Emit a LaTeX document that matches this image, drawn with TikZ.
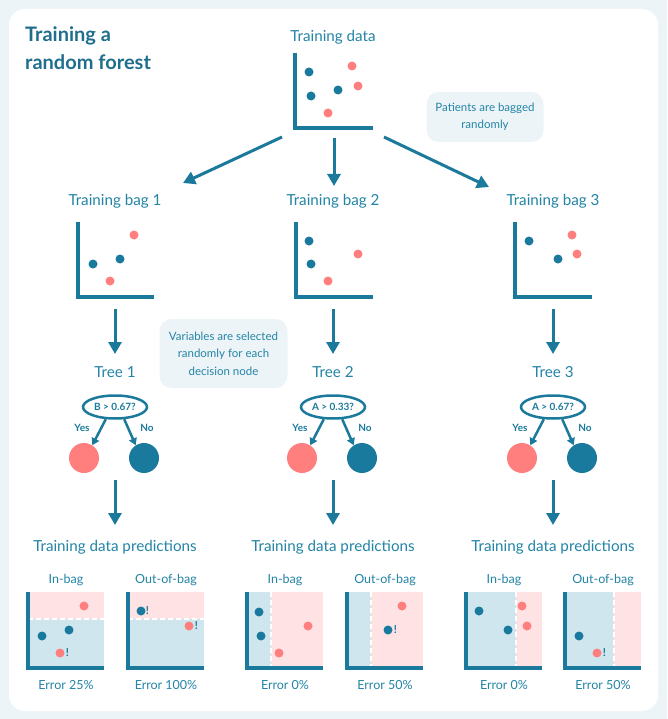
\documentclass[tikz,border=0pt]{standalone}
\usepackage{fontspec}
\setmainfont{Lato}
\usetikzlibrary{arrows.meta,shapes.geometric}
\definecolor{bgc}{HTML}{EDF4F8}
\definecolor{tealdark}{HTML}{1B7A9C}
\definecolor{titlec}{HTML}{1F6E8E}
\definecolor{labc}{HTML}{2384A6}
\definecolor{bdotc}{HTML}{1A7A9D}
\definecolor{rdotc}{HTML}{FF7E7E}
\definecolor{lblue}{HTML}{CFE6EE}
\definecolor{lpink}{HTML}{FFE2E4}
\definecolor{callc}{HTML}{EDF4F8}
\newcommand\dotB[1]{\fill[bdotc] #1 circle (4.5pt);}
\newcommand\dotR[1]{\fill[rdotc] #1 circle (4.5pt);}
\begin{document}
\begin{tikzpicture}[x=1pt,y=-1pt,
 lab/.style={text=labc, font=\fontsize{15.2}{17}\selectfont, inner sep=0, anchor=base},
 sublab/.style={text=labc, font=\fontsize{12.5}{14}\selectfont, inner sep=0, anchor=base},
 ttl/.style={text=titlec, font=\bfseries\fontsize{20}{22}\selectfont, inner sep=0, anchor=base west},
 callout/.style={fill=callc, rounded corners=12pt, text=labc, align=center, font=\fontsize{11.5}{17.5}\selectfont, inner sep=0},
 arr/.style={draw=tealdark, line width=3pt, -{Triangle[length=12pt,width=13pt]}},
 barr/.style={draw=tealdark, line width=2.5pt, -{Triangle[length=7pt,width=8pt]}},
 axisl/.style={draw=tealdark, line width=3.5pt},
 paxis/.style={draw=tealdark, line width=3.2pt},
 sepl/.style={draw=white, line width=2.5pt, dash pattern=on 5pt off 3pt},
 dec/.style={ellipse, draw=tealdark, line width=2.5pt, minimum width=64pt, minimum height=23pt, inner sep=0, text=tealdark, font=\bfseries\fontsize{10}{10}\selectfont},
 leafR/.style={circle, fill=rdotc, minimum size=30pt, inner sep=0},
 leafB/.style={circle, fill=bdotc, minimum size=30pt, inner sep=0},
 yn/.style={text=tealdark, font=\bfseries\fontsize{10}{10}\selectfont, inner sep=0},
 bang/.style={text=tealdark, font=\bfseries\fontsize{11}{12}\selectfont, inner sep=0},
]
\fill[bgc] (0,0) rectangle (667,719);
\useasboundingbox (0,0) rectangle (667,719);
\fill[white, rounded corners=16pt] (9,9) rectangle (658,711);

% title
\node[ttl] (title1) at (25,42) {Training a};
\node[ttl] (title2) at (25,70) {random forest};

% training data
\node[lab] (tdlab) at (333,42) {Training data};
\draw[axisl] (295,53) -- (295,128) -- (373,128);
\dotB{(309,72)} \dotB{(311,96)} \dotB{(338,90)}
\dotR{(352,66)} \dotR{(358,86)} \dotR{(328,113)}
\node[callout, minimum width=117pt, minimum height=50pt] (call1) at (485,117) {Patients are bagged\\randomly};

\coordinate (s1) at (282,137); \coordinate (e1) at (183,183);
\coordinate (s2) at (334,138); \coordinate (e2) at (334,186);
\coordinate (s3) at (384,137); \coordinate (e3) at (489,187);
\draw[arr] (s1) -- (e1);
\draw[arr] (s2) -- (e2);
\draw[arr] (s3) -- (e3);

% bags
\node[lab] (bag1) at (115,206) {Training bag 1};
\node[lab] (bag2) at (333,206) {Training bag 2};
\node[lab] (bag3) at (553,206) {Training bag 3};
\draw[axisl] (78,222) -- (78,297) -- (154,297);
\draw[axisl] (296,222) -- (296,297) -- (373,297);
\draw[axisl] (515,222) -- (515,297) -- (592,297);
\dotB{(93,264)} \dotB{(120,259)} \dotR{(134,235)} \dotR{(110,281)}
\dotB{(309,241)} \dotB{(311,264)} \dotR{(328,281)} \dotR{(358,254)}
\dotB{(529,241)} \dotB{(558,259)} \dotR{(572,235)} \dotR{(577,254)}

\foreach \x/\n in {115/1,333/2,553/3}{
  \coordinate (bs\n) at (\x,309); \coordinate (be\n) at (\x,354);
  \draw[arr] (bs\n) -- (be\n);
}

\node[callout, minimum width=128pt, minimum height=69pt] (call2) at (223.5,353.5) {Variables are selected\\randomly for each\\decision node};

% trees
\node[lab] (tree1) at (115,377) {Tree 1};
\node[lab] (tree2) at (333,377) {Tree 2};
\node[lab] (tree3) at (553,377) {Tree 3};

\node[dec] (dec1) at (115,407) {B > 0.67?};
\node[dec] (dec2) at (333,407) {A > 0.33?};
\node[dec] (dec3) at (553,407) {A > 0.67?};

\foreach \x/\n in {115/1,333/2,553/3}{
  \node[leafR] (lr\n) at (\x-31,458) {};
  \node[leafB] (lb\n) at (\x+29,458) {};
  \draw[barr] (dec\n.-127) -- (lr\n.57);
  \draw[barr] (dec\n.-53) -- (lb\n.123);
  \node[yn] (yes\n) at (\x-33,428) {Yes};
  \node[yn] (no\n) at (\x+32,428) {No};
  \coordinate (ts\n) at (\x,480); \coordinate (te\n) at (\x,525);
  \draw[arr] (ts\n) -- (te\n);
  \node[lab] (pred\n) at (\x,551) {Training data predictions};
}

% prediction panels
\foreach \c/\n/\lab/\err in {66/a/In-bag/Error 25\%,166/b/Out-of-bag/Error 100\%,285/c/In-bag/Error 0\%,385/d/Out-of-bag/Error 50\%,504/e/In-bag/Error 0\%,603/f/Out-of-bag/Error 50\%}{
  \node[sublab] (pl\n) at (\c,583) {\lab};
  \node[sublab] (pe\n) at (\c,689) {\err};
}

% tree 1 in-bag
\fill[lpink] (28,592) rectangle (104,619);
\fill[lblue] (28,619) rectangle (104,668);
\draw[sepl] (28,619) -- (104,619);
\draw[paxis] (28,592) -- (28,668) -- (104,668);
\dotR{(84,606)} \dotB{(42,636)} \dotB{(69,630)} \dotR{(60,653)}
\node[bang] (bga) at (67.5,653) {!};
% tree 1 out-of-bag
\fill[lpink] (128,592) rectangle (204,619);
\fill[lblue] (128,619) rectangle (204,668);
\draw[sepl] (128,619) -- (204,619);
\draw[paxis] (128,592) -- (128,668) -- (204,668);
\dotB{(141,611)} \dotR{(189,626)}
\node[bang] (bgb) at (147.5,611) {!};
\node[bang] (bgc) at (196.5,626) {!};

% tree 2 in-bag
\fill[lblue] (247,592) rectangle (271,668);
\fill[lpink] (271,592) rectangle (323,668);
\draw[sepl] (271,592) -- (271,668);
\draw[paxis] (247,592) -- (247,668) -- (323,668);
\dotB{(259,612)} \dotB{(261,636)} \dotR{(308,626)} \dotR{(279,653)}
% tree 2 out-of-bag
\fill[lblue] (347,592) rectangle (371,668);
\fill[lpink] (371,592) rectangle (423,668);
\draw[sepl] (371,592) -- (371,668);
\draw[paxis] (347,592) -- (347,668) -- (423,668);
\dotB{(388,630)} \dotR{(402,606)}
\node[bang] (bgd) at (395.5,630) {!};

% tree 3 in-bag
\fill[lblue] (466,592) rectangle (516,668);
\fill[lpink] (516,592) rectangle (542,668);
\draw[sepl] (516,592) -- (516,668);
\draw[paxis] (466,592) -- (466,668) -- (542,668);
\dotB{(479,611)} \dotB{(508,630)} \dotR{(522,606)} \dotR{(527,626)}
% tree 3 out-of-bag
\fill[lblue] (565,592) rectangle (614,668);
\fill[lpink] (614,592) rectangle (641,668);
\draw[sepl] (614,592) -- (614,668);
\draw[paxis] (565,592) -- (565,668) -- (641,668);
\dotB{(579,636)} \dotR{(597,653)}
\node[bang] (bge) at (604.5,653) {!};
\end{tikzpicture}
\end{document}
